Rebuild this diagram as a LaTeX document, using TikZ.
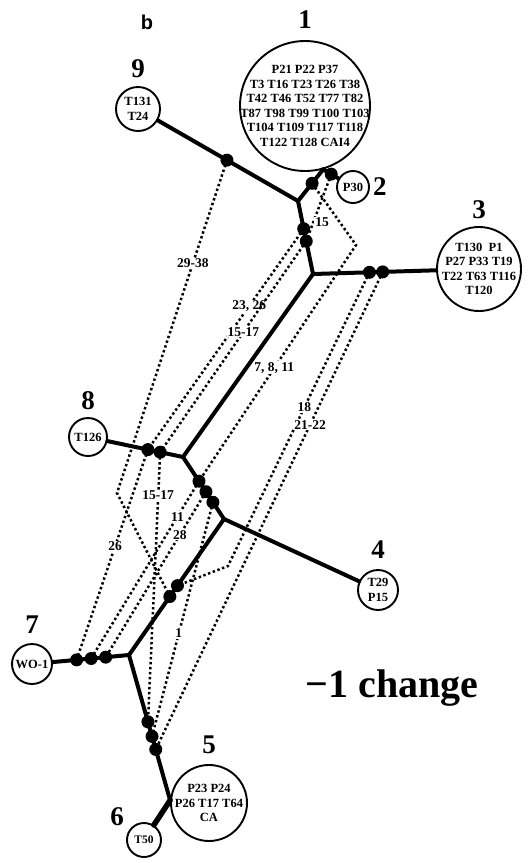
\documentclass[tikz,border=0pt]{standalone}
\usepackage{fontspec}
\setmainfont{Liberation Serif}
\setsansfont{Liberation Sans}
\usetikzlibrary{calc,positioning}

\begin{document}
\begin{tikzpicture}[x=1pt,y=-1pt,
    hap/.style={circle,draw,line width=1.9pt,fill=white,inner sep=0pt},
    haptext/.style={align=center,inner sep=0pt,font=\fontsize{12.5}{14.5}\selectfont\bfseries},
    num/.style={inner sep=0pt,font=\fontsize{27}{27}\selectfont\bfseries},
    branch/.style={line width=4pt,line cap=round,line join=round},
    homo/.style={line width=2.5pt,dash pattern=on 2.4pt off 2.6pt},
    lbl/.style={fill=white,inner sep=1pt,font=\fontsize{13.5}{13.5}\selectfont\bfseries}]

  \useasboundingbox (0,0) rectangle (528,863);

  \node[hap,minimum size=130pt] (HAP1) at (305,106) {};
  \node[hap,minimum size=44pt] (HAP9) at (138,109) {};
  \node[hap,minimum size=32pt] (HAP2) at (353,187) {};
  \node[hap,minimum size=84pt] (HAP3) at (479,269) {};
  \node[hap,minimum size=38pt] (HAP8) at (88,437) {};
  \node[hap,minimum size=40pt] (HAP4) at (378,590) {};
  \node[hap,minimum size=40pt] (HAP7) at (32,664) {};
  \node[hap,minimum size=76pt] (HAP5) at (209,803) {};
  \node[hap,minimum size=34pt] (HAP6) at (144,840) {};

  \node[haptext] (T1) at (HAP1) {P21 P22 P37\\T3 T16 T23 T26 T38\\T42 T46 T52 T77 T82\\T87 T98 T99 T100 T103\\T104 T109 T117 T118\\T122 T128 CAI4};
  \node[haptext] (T9) at (HAP9) {T131\\T24};
  \node[haptext] (T2) at (HAP2) {P30};
  \node[haptext] (T3) at (HAP3) {T130\enspace P1\\P27 P33 T19\\T22 T63 T116\\T120};
  \node[haptext] (T8) at (HAP8) {T126};
  \node[haptext] (T4) at (HAP4) {T29\\P15};
  \node[haptext] (T7) at (HAP7) {WO-1};
  \node[haptext] (T5) at (HAP5) {P23 P24\\P26 T17 T64\\CA};
  \node[haptext,font=\fontsize{11.5}{13}\selectfont\bfseries] (T6) at (HAP6) {T50};

  \node[num] (L1) [above=11pt of HAP1] {1};
  \node[num] (L9) [above=8pt of HAP9] {9};
  \node[num] (L2) [right=3pt of HAP2] {2};
  \node[num] (L3) [above=7pt of HAP3] {3};
  \node[num] (L8) [above=7pt of HAP8] {8};
  \node[num] (L4) [above=10pt of HAP4] {4};
  \node[num] (L7) [above=9pt of HAP7] {7};
  \node[num] (L5) [above=10pt of HAP5] {5};
  \node[num] (L6) at (117,817) {6};

  \node[font=\sffamily\bfseries\fontsize{20}{20}\selectfont] (PANEL) at (147,22) {b};
  \node[font=\bfseries\fontsize{40}{40}\selectfont] (SCORE) at (392,688) {−1 change};

  % tree
  \coordinate (J1) at (HAP1.-74);
  \coordinate (JA) at (298,201);
  \coordinate (JB) at (313,274);
  \coordinate (JC) at (183,457);
  \coordinate (JD) at (224,519);
  \coordinate (JE) at (129,655);
  \coordinate (JF) at (HAP5.176);

  % changes on the branches
  \coordinate (D9) at ($(HAP9)!.556!(JA)$);
  \coordinate (D1) at ($(JA)!.56!(J1)$);
  \coordinate (D2) at ($(J1)!.27!(HAP2)$);
  \coordinate (DA1) at ($(JA)!.38!(JB)$);
  \coordinate (DA2) at ($(JA)!.55!(JB)$);
  \coordinate (D3A) at ($(JB)!.34!(HAP3)$);
  \coordinate (D3B) at ($(JB)!.42!(HAP3)$);
  \coordinate (D8A) at ($(JC)!.37!(HAP8)$);
  \coordinate (D8B) at ($(JC)!.24!(HAP8)$);
  \coordinate (DC1) at ($(JC)!.39!(JD)$);
  \coordinate (DC2) at ($(JC)!.56!(JD)$);
  \coordinate (DC3) at ($(JC)!.73!(JD)$);
  \coordinate (DD1) at ($(JD)!.49!(JE)$);
  \coordinate (DD2) at ($(JD)!.57!(JE)$);
  \coordinate (D7A) at ($(JE)!.54!(HAP7)$);
  \coordinate (D7B) at ($(JE)!.39!(HAP7)$);
  \coordinate (D7C) at ($(JE)!.24!(HAP7)$);
  \coordinate (DE1) at ($(JE)!.46!(JF)$);
  \coordinate (DE2) at ($(JE)!.56!(JF)$);
  \coordinate (DE3) at ($(JE)!.65!(JF)$);

  \coordinate (V1) at (117,493);
  \coordinate (V2) at (356,245);
  \coordinate (V3) at (228,566);

  % homoplasies
  \path[draw,homo] (D9) -- node[lbl,pos=.31] {29-38} (V1) -- (DD2);
  \path[draw,homo] (DA1) -- node[lbl,pos=.35] {23, 26} (D8A);
  \path[draw,homo] (DA2) -- node[lbl,pos=.43] {15-17} (D8B);
  \path[draw,homo] (D2) -- node[lbl,pos=.72,right] {15} (DA2);
  \path[draw,homo] (D1) -- (V2) -- node[lbl,pos=.52] {7, 8, 11} (DC1);
  \path[draw,homo] (DC1) -- node[lbl,pos=.20] {11} (D7B);
  \path[draw,homo] (DC2) -- node[lbl,pos=.26] {28} (D7C);
  \path[draw,homo] (DC3) -- node[lbl,pos=.56] {1} (DE2);
  \path[draw,homo] (D8A) -- node[lbl,pos=.46] {26} (D7A);
  \path[draw,homo] (D8B) -- node[lbl,pos=.16] {15-17} (DE1);
  \path[draw,homo] (D3A) -- node[lbl,pos=.46] {18} (V3) -- (DD1);
  \path[draw,homo] (D3B) -- node[lbl,pos=.32] {21-22} (DE3);

  \path[draw,branch] (HAP9) -- (JA) -- (J1);
  \path[draw,branch] (J1) -- (HAP2);
  \path[draw,branch] (JA) -- (JB) -- (HAP3);
  \path[draw,branch] (JB) -- (JC) -- (HAP8);
  \path[draw,branch] (JC) -- (JD) -- (HAP4);
  \path[draw,branch] (JD) -- (JE) -- (HAP7);
  \path[draw,branch] (JE) -- (JF);
  \path[draw,branch,line width=5.5pt] (JF) -- (HAP6);

  \fill (D9) circle (6.5pt) (D1) circle (6.5pt) (D2) circle (6.5pt)
    (DA1) circle (6.5pt) (DA2) circle (6.5pt) (D3A) circle (6.5pt) (D3B) circle (6.5pt)
    (D8A) circle (6.5pt) (D8B) circle (6.5pt) (DC1) circle (6.5pt) (DC2) circle (6.5pt)
    (DC3) circle (6.5pt) (DD1) circle (6.5pt) (DD2) circle (6.5pt) (D7A) circle (6.5pt)
    (D7B) circle (6.5pt) (D7C) circle (6.5pt) (DE1) circle (6.5pt) (DE2) circle (6.5pt)
    (DE3) circle (6.5pt);
\end{tikzpicture}
\end{document}
